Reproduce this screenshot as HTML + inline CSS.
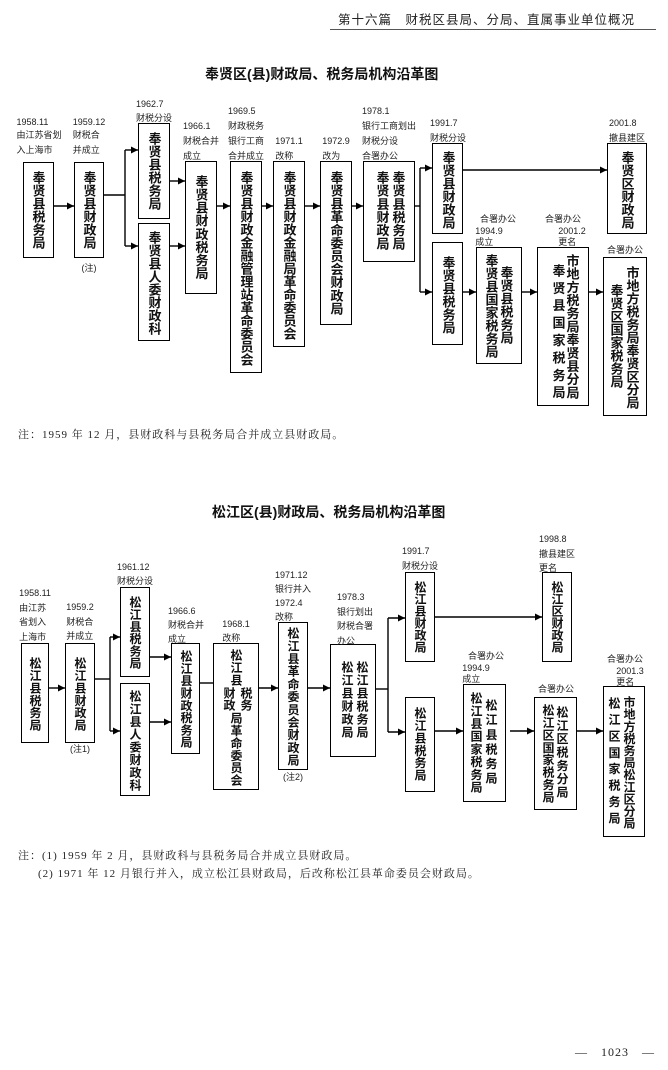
<!DOCTYPE html>
<html><head><meta charset="utf-8"><style>
body{margin:0;background:#fff}
#p{position:relative;width:668px;height:1070px;overflow:hidden;background:#fff;color:#111;font-family:"Liberation Sans","Noto Sans CJK SC",sans-serif}
.b{position:absolute;border:1.5px solid #000;box-sizing:border-box}
.v{position:absolute;writing-mode:vertical-rl;text-orientation:upright;font:bold 13px "Liberation Sans","Noto Sans CJK SC",sans-serif;line-height:13px;white-space:nowrap}
.w{font-size:12px;line-height:12px}
.l{position:absolute;font-size:9px;line-height:11px;transform:translateX(-50%);white-space:nowrap;color:#222}
.t{position:absolute;font-size:14px;font-weight:bold;white-space:nowrap}
.n{position:absolute;font:11px "Liberation Serif","Noto Serif CJK SC",serif;letter-spacing:1px;white-space:nowrap;color:#222}
svg{position:absolute;left:0;top:0}
</style></head><body><div id="p">
<div class="n" style="left:338px;top:9px;font-size:12.5px;letter-spacing:1px;font-family:'Liberation Sans','Noto Sans CJK SC',sans-serif">第十六篇　财税区县局、分局、直属事业单位概况</div>
<div style="position:absolute;left:330px;top:29px;width:326px;border-top:1px solid #555"></div>

<div class="t" style="left:205px;top:64px">奉贤区(县)财政局、税务局机构沿革图</div>

<div class="b" style="left:23px;top:162px;width:31px;height:96px"></div>
<div class="b" style="left:74px;top:162px;width:30px;height:96px"></div>
<div class="b" style="left:138px;top:123px;width:32px;height:96px"></div>
<div class="b" style="left:138px;top:223px;width:32px;height:118px"></div>
<div class="b" style="left:185px;top:161px;width:32px;height:133px"></div>
<div class="b" style="left:230px;top:161px;width:32px;height:212px"></div>
<div class="b" style="left:273px;top:161px;width:32px;height:186px"></div>
<div class="b" style="left:320px;top:161px;width:32px;height:164px"></div>
<div class="b" style="left:363px;top:161px;width:52px;height:101px"></div>
<div class="b" style="left:432px;top:143px;width:31px;height:91px"></div>
<div class="b" style="left:607px;top:143px;width:40px;height:91px"></div>
<div class="b" style="left:432px;top:242px;width:31px;height:103px"></div>
<div class="b" style="left:476px;top:247px;width:46px;height:117px"></div>
<div class="b" style="left:537px;top:247px;width:52px;height:159px"></div>
<div class="b" style="left:603px;top:257px;width:44px;height:159px"></div>

<div class="v" style="left:31.5px;top:170.5px">奉贤县税务局</div>
<div class="v" style="left:82.5px;top:170.5px">奉贤县财政局</div>
<div class="v" style="left:147.5px;top:131.5px">奉贤县税务局</div>
<div class="v" style="left:147.5px;top:230.5px">奉贤县人委财政科</div>
<div class="v" style="left:194.5px;top:174.5px;letter-spacing:.1px">奉贤县财政税务局</div>
<div class="v" style="left:239.5px;top:170.5px">奉贤县财政金融管理站革命委员会</div>
<div class="v" style="left:282.5px;top:170.5px">奉贤县财政金融局革命委员会</div>
<div class="v" style="left:329.5px;top:170.5px;letter-spacing:.1px">奉贤县革命委员会财政局</div>
<div class="v" style="left:391.5px;top:170.5px;letter-spacing:.2px">奉贤县税务局</div>
<div class="v" style="left:375.5px;top:170.5px;letter-spacing:.2px">奉贤县财政局</div>
<div class="v" style="left:441.5px;top:150.5px">奉贤县财政局</div>
<div class="v" style="left:620.5px;top:150.5px">奉贤区财政局</div>
<div class="v" style="left:441.5px;top:255.5px">奉贤县税务局</div>
<div class="v" style="left:499.5px;top:265.5px">奉贤县税务局</div>
<div class="v" style="left:484.5px;top:253.5px">奉贤县国家税务局</div>
<div class="v" style="left:565.5px;top:253.5px;letter-spacing:.2px">市地方税务局奉贤县分局</div>
<div class="v" style="left:551.5px;top:263.5px;letter-spacing:4.4px">奉贤县国家税务局</div>
<div class="v" style="left:625.5px;top:265.5px">市地方税务局奉贤区分局</div>
<div class="v" style="left:609.5px;top:283.5px">奉贤区国家税务局</div>

<div class="l" style="left:39px;top:117px">1958.11<br><span style="line-height:15px">由江苏省划<br>入上海市</span></div>
<div class="l" style="left:89px;top:117px">1959.12<br><span style="line-height:15px">财税合<br>并成立</span></div>
<div class="l" style="left:89px;top:263px">(注)</div>
<div class="l" style="left:154px;top:97px;line-height:14px">1962.7<br>财税分设</div>
<div class="l" style="left:201px;top:119px;line-height:15px">1966.1<br>财税合并<br>成立</div>
<div class="l" style="left:246px;top:104px;line-height:15px">1969.5<br>财政税务<br>银行工商<br>合并成立</div>
<div class="l" style="left:289px;top:134px;line-height:15px">1971.1<br>改称</div>
<div class="l" style="left:336px;top:134px;line-height:15px">1972.9<br>改为</div>
<div class="l" style="left:389px;top:104px;line-height:15px">1978.1<br>银行工商划出<br>财税分设<br>合署办公</div>
<div class="l" style="left:448px;top:116px;line-height:15px">1991.7<br>财税分设</div>
<div class="l" style="left:627px;top:116px;line-height:15px">2001.8<br>撤县建区</div>
<div class="l" style="left:498px;top:212px;line-height:14px">合署办公</div>
<div class="l" style="left:489px;top:226px;line-height:11px">1994.9<br>成立</div>
<div class="l" style="left:563px;top:212px;line-height:14px">合署办公</div>
<div class="l" style="left:572px;top:226px;line-height:11px">2001.2<br>更名</div>
<div class="l" style="left:625px;top:245px">合署办公</div>

<div class="n" style="left:18px;top:426px">注：1959 年 12 月，县财政科与县税务局合并成立县财政局。</div>

<div class="t" style="left:212px;top:502px">松江区(县)财政局、税务局机构沿革图</div>

<div class="b" style="left:21px;top:643px;width:28px;height:100px"></div>
<div class="b" style="left:65px;top:643px;width:30px;height:100px"></div>
<div class="b" style="left:120px;top:587px;width:30px;height:90px"></div>
<div class="b" style="left:120px;top:683px;width:30px;height:113px"></div>
<div class="b" style="left:171px;top:643px;width:29px;height:111px"></div>
<div class="b" style="left:213px;top:643px;width:46px;height:147px"></div>
<div class="b" style="left:278px;top:622px;width:30px;height:148px"></div>
<div class="b" style="left:330px;top:644px;width:46px;height:113px"></div>
<div class="b" style="left:405px;top:572px;width:30px;height:90px"></div>
<div class="b" style="left:542px;top:572px;width:30px;height:90px"></div>
<div class="b" style="left:405px;top:697px;width:30px;height:95px"></div>
<div class="b" style="left:463px;top:684px;width:43px;height:118px"></div>
<div class="b" style="left:534px;top:697px;width:43px;height:113px"></div>
<div class="b" style="left:603px;top:686px;width:42px;height:151px"></div>

<div class="v w" style="left:29px;top:657px;letter-spacing:.4px">松江县税务局</div>
<div class="v w" style="left:74px;top:657px;letter-spacing:.4px">松江县财政局</div>
<div class="v w" style="left:129px;top:596px;letter-spacing:.2px">松江县税务局</div>
<div class="v w" style="left:129px;top:690px;letter-spacing:.7px">松江县人委财政科</div>
<div class="v w" style="left:180px;top:650px;letter-spacing:.3px">松江县财政税务局</div>
<div class="v w" style="left:230px;top:649px;letter-spacing:.5px">松江县</div>
<div class="v w" style="left:223px;top:687px">财政</div>
<div class="v w" style="left:240px;top:687px">税务</div>
<div class="v w" style="left:230px;top:712px;letter-spacing:.4px">局革命委员会</div>
<div class="v w" style="left:287px;top:627px;letter-spacing:.7px">松江县革命委员会财政局</div>
<div class="v w" style="left:356px;top:661px;letter-spacing:1px">松江县税务局</div>
<div class="v w" style="left:341px;top:661px;letter-spacing:1px">松江县财政局</div>
<div class="v w" style="left:414px;top:581px">松江县财政局</div>
<div class="v w" style="left:551px;top:581px">松江区财政局</div>
<div class="v w" style="left:414px;top:707px;letter-spacing:.4px">松江县税务局</div>
<div class="v w" style="left:485px;top:699px;letter-spacing:2.6px">松江县税务局</div>
<div class="v w" style="left:470px;top:692px;letter-spacing:.7px">松江县国家税务局</div>
<div class="v w" style="left:556px;top:706px;letter-spacing:1.3px">松江区税务分局</div>
<div class="v w" style="left:542px;top:704px;letter-spacing:.4px">松江区国家税务局</div>
<div class="v w" style="left:623px;top:696px;letter-spacing:.1px">市地方税务局松江区分局</div>
<div class="v w" style="left:608px;top:697px;letter-spacing:4.4px">松江区国家税务局</div>

<div class="l" style="left:35px;top:586px;line-height:14.5px">1958.11<br>由江苏<br>省划入<br>上海市</div>
<div class="l" style="left:80px;top:600px;line-height:14.5px">1959.2<br>财税合<br>并成立</div>
<div class="l" style="left:80px;top:744px">(注1)</div>
<div class="l" style="left:135px;top:560px;line-height:14px">1961.12<br>财税分设</div>
<div class="l" style="left:186px;top:604px;line-height:14px">1966.6<br>财税合并<br>成立</div>
<div class="l" style="left:236px;top:617px;line-height:14px">1968.1<br>改称</div>
<div class="l" style="left:293px;top:568px;line-height:14px">1971.12<br>银行并入<br>1972.4<br>改称</div>
<div class="l" style="left:293px;top:772px">(注2)</div>
<div class="l" style="left:355px;top:590px;line-height:14.5px">1978.3<br>银行划出<br>财税合署<br>办公</div>
<div class="l" style="left:420px;top:544px;line-height:14.5px">1991.7<br>财税分设</div>
<div class="l" style="left:557px;top:532px;line-height:14.5px">1998.8<br>撤县建区<br>更名</div>
<div class="l" style="left:486px;top:651px">合署办公</div>
<div class="l" style="left:476px;top:663px">1994.9<br>成立</div>
<div class="l" style="left:556px;top:684px">合署办公</div>
<div class="l" style="left:625px;top:654px">合署办公</div>
<div class="l" style="left:630px;top:666px">2001.3<br>更名</div>

<div class="n" style="left:18px;top:847px">注：(1) 1959 年 2 月，县财政科与县税务局合并成立县财政局。</div>
<div class="n" style="left:38px;top:865px">(2) 1971 年 12 月银行并入，成立松江县财政局，后改称松江县革命委员会财政局。</div>

<div class="n" style="left:575px;top:1043px;font-size:12px">—　1023　—</div>

<svg width="668" height="1070" viewBox="0 0 668 1070">
<defs><marker id="a" markerWidth="8" markerHeight="8" refX="7" refY="3.5" orient="auto" markerUnits="userSpaceOnUse"><path d="M0,0L7,3.5L0,7z" fill="#000"/></marker></defs>
<g stroke="#000" stroke-width="1.4" fill="none">
<path d="M54,206H74" marker-end="url(#a)"/>
<path d="M104,195H125"/><path d="M125,150V246"/>
<path d="M125,150H138" marker-end="url(#a)"/><path d="M125,246H138" marker-end="url(#a)"/>
<path d="M170,181H185" marker-end="url(#a)"/><path d="M170,246H185" marker-end="url(#a)"/>
<path d="M217,206H230" marker-end="url(#a)"/><path d="M262,206H273" marker-end="url(#a)"/>
<path d="M305,206H320" marker-end="url(#a)"/><path d="M352,206H363" marker-end="url(#a)"/>
<path d="M415,206H420"/><path d="M420,168V292"/>
<path d="M420,168H432" marker-end="url(#a)"/><path d="M420,292H432" marker-end="url(#a)"/>
<path d="M463,170H607" marker-end="url(#a)"/>
<path d="M463,292H476" marker-end="url(#a)"/><path d="M522,292H537" marker-end="url(#a)"/><path d="M589,292H603" marker-end="url(#a)"/>

<path d="M49,688H65" marker-end="url(#a)"/>
<path d="M95,679H110"/><path d="M110,637V731"/>
<path d="M110,637H120" marker-end="url(#a)"/><path d="M110,731H120" marker-end="url(#a)"/>
<path d="M150,657H171" marker-end="url(#a)"/><path d="M150,722H171" marker-end="url(#a)"/>
<path d="M200,683H213"/>
<path d="M259,688H278" marker-end="url(#a)"/><path d="M308,688H330" marker-end="url(#a)"/>
<path d="M376,689H388"/><path d="M388,618V732"/>
<path d="M388,618H405" marker-end="url(#a)"/><path d="M388,732H405" marker-end="url(#a)"/>
<path d="M435,617H542" marker-end="url(#a)"/>
<path d="M435,731H463" marker-end="url(#a)"/><path d="M510,731H534" marker-end="url(#a)"/><path d="M577,731H603" marker-end="url(#a)"/>
</g></svg>
</div></body></html>
